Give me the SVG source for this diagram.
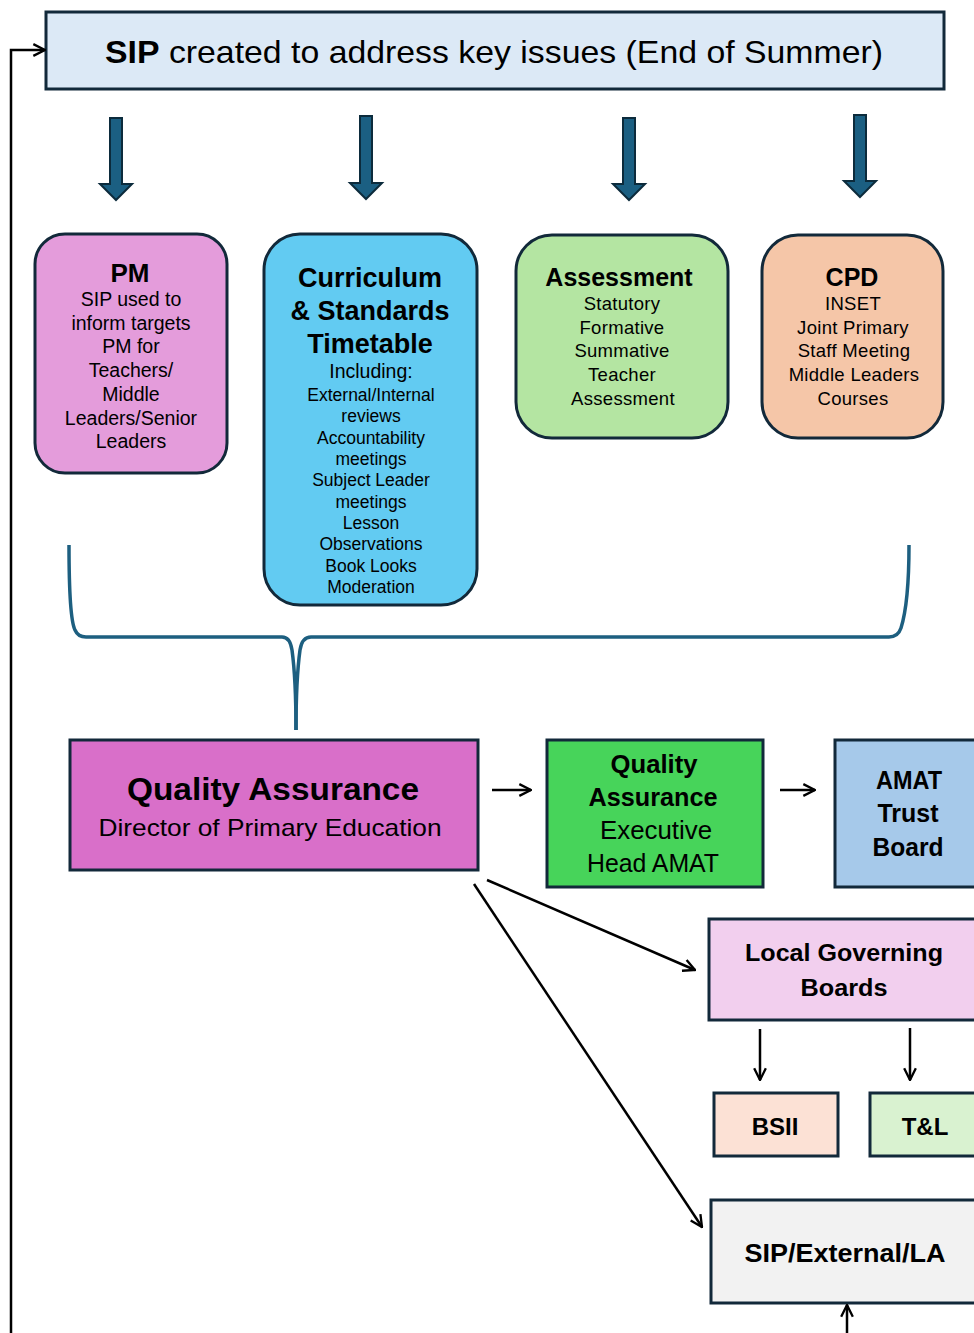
<svg xmlns="http://www.w3.org/2000/svg" width="974" height="1333" viewBox="0 0 974 1333">
  <defs>
    <style>
      .box { stroke: #12293a; stroke-width: 3; }
      .t { font-family: "Liberation Sans", Arial, sans-serif; fill: #000; text-anchor: middle; }
      .b { font-weight: bold; }
      .pm { font-size: 19.5px; }
      .cur { font-size: 17.5px; }
      .lst { font-size: 18.5px; letter-spacing: 0.3px; }
      .blk { fill: #1b5f82; stroke: #0c2b3c; stroke-width: 2; }
      .con { fill: none; stroke: #000; stroke-width: 2.5; }
      .brace { fill: none; stroke: #1d5f80; stroke-width: 3.5; }
    </style>
    <marker id="head" viewBox="0 0 12 12" refX="11" refY="6" markerWidth="14" markerHeight="14" markerUnits="userSpaceOnUse" orient="auto">
      <path d="M1,1 L11,6 L1,11" fill="none" stroke="#000" stroke-width="2"/>
    </marker>
  </defs>

  <!-- SIP header -->
  <g id="sip-header">
    <rect class="box" x="46" y="12" width="898" height="77" fill="#dce9f6"/>
    <text class="t" x="494" y="63" font-size="32" textLength="778" lengthAdjust="spacingAndGlyphs"><tspan class="b">SIP</tspan> created to address key issues (End of Summer)</text>
  </g>

  <!-- block arrows from header -->
  <g id="block-arrows">
    <polygon class="blk" points="110,118 122,118 122,184 132,184 116,200 100,184 110,184"/>
    <polygon class="blk" points="360,116 372,116 372,183 382,183 366,199 350,183 360,183"/>
    <polygon class="blk" points="623,118 635,118 635,184 645,184 629,200 613,184 623,184"/>
    <polygon class="blk" points="854,115 866,115 866,181 876,181 860,197 844,181 854,181"/>
  </g>

  <!-- PM -->
  <g id="pm">
    <rect class="box" x="35" y="234" width="192" height="239" rx="30" fill="#e49cdb"/>
    <text class="t b" x="130" y="282" font-size="26">PM</text>
    <text class="t pm" x="131" y="306">SIP used to</text>
    <text class="t pm" x="131" y="330">inform targets</text>
    <text class="t pm" x="131" y="353">PM for</text>
    <text class="t pm" x="131" y="377">Teachers/</text>
    <text class="t pm" x="131" y="401">Middle</text>
    <text class="t pm" x="131" y="425">Leaders/Senior</text>
    <text class="t pm" x="131" y="448">Leaders</text>
  </g>

  <!-- Curriculum & Standards -->
  <g id="curriculum">
    <rect class="box" x="264" y="234" width="213" height="371" rx="36" fill="#62cbf2"/>
    <text class="t b" x="370" y="287" font-size="27">Curriculum</text>
    <text class="t b" x="370" y="320" font-size="27">&amp; Standards</text>
    <text class="t b" x="370" y="353" font-size="27">Timetable</text>
    <text class="t" x="371" y="378" font-size="19.5">Including:</text>
    <text class="t cur" x="371" y="401">External/Internal</text>
    <text class="t cur" x="371" y="422">reviews</text>
    <text class="t cur" x="371" y="444">Accountability</text>
    <text class="t cur" x="371" y="465">meetings</text>
    <text class="t cur" x="371" y="486">Subject Leader</text>
    <text class="t cur" x="371" y="508">meetings</text>
    <text class="t cur" x="371" y="529">Lesson</text>
    <text class="t cur" x="371" y="550">Observations</text>
    <text class="t cur" x="371" y="572">Book Looks</text>
    <text class="t cur" x="371" y="593">Moderation</text>
  </g>

  <!-- Assessment -->
  <g id="assessment">
    <rect class="box" x="516" y="235" width="212" height="203" rx="36" fill="#b4e5a2"/>
    <text class="t b" x="619" y="286" font-size="25">Assessment</text>
    <text class="t lst" x="622" y="310">Statutory</text>
    <text class="t lst" x="622" y="334">Formative</text>
    <text class="t lst" x="622" y="357">Summative</text>
    <text class="t lst" x="622" y="381">Teacher</text>
    <text class="t lst" x="623" y="405">Assessment</text>
  </g>

  <!-- CPD -->
  <g id="cpd">
    <rect class="box" x="762" y="235" width="181" height="203" rx="36" fill="#f5c6a8"/>
    <text class="t b" x="852" y="286" font-size="25">CPD</text>
    <text class="t lst" x="853" y="310">INSET</text>
    <text class="t lst" x="853" y="334">Joint Primary</text>
    <text class="t lst" x="854" y="357">Staff Meeting</text>
    <text class="t lst" x="854" y="381">Middle Leaders</text>
    <text class="t lst" x="853" y="405">Courses</text>
  </g>

  <!-- Quality Assurance -->
  <g id="qa">
    <rect class="box" x="70" y="740" width="408" height="130" fill="#d96fc9"/>
    <text class="t b" x="273" y="800" font-size="31" textLength="292" lengthAdjust="spacingAndGlyphs">Quality Assurance</text>
    <text class="t" x="270" y="836" font-size="24" textLength="343" lengthAdjust="spacingAndGlyphs">Director of Primary Education</text>
  </g>

  <!-- Quality Assurance Executive -->
  <g id="qa-exec">
    <rect class="box" x="547" y="740" width="216" height="147" fill="#47d45a"/>
    <text class="t b" x="654" y="773" font-size="25" textLength="87" lengthAdjust="spacingAndGlyphs">Quality</text>
    <text class="t b" x="653" y="806" font-size="25" textLength="129" lengthAdjust="spacingAndGlyphs">Assurance</text>
    <text class="t" x="656" y="839" font-size="25" textLength="112" lengthAdjust="spacingAndGlyphs">Executive</text>
    <text class="t" x="653" y="872" font-size="25" textLength="132" lengthAdjust="spacingAndGlyphs">Head AMAT</text>
  </g>

  <!-- AMAT Trust Board -->
  <g id="amat">
    <rect class="box" x="835" y="740" width="145" height="147" fill="#a6c9ea"/>
    <text class="t b" x="909" y="789" font-size="25" textLength="66" lengthAdjust="spacingAndGlyphs">AMAT</text>
    <text class="t b" x="908" y="822" font-size="25" textLength="61" lengthAdjust="spacingAndGlyphs">Trust</text>
    <text class="t b" x="908" y="856" font-size="25" textLength="71" lengthAdjust="spacingAndGlyphs">Board</text>
  </g>

  <!-- Local Governing Boards -->
  <g id="lgb">
    <rect class="box" x="709" y="919" width="271" height="101" fill="#f2cfee"/>
    <text class="t b" x="844" y="961" font-size="23" textLength="198" lengthAdjust="spacingAndGlyphs">Local Governing</text>
    <text class="t b" x="844" y="996" font-size="23" textLength="87" lengthAdjust="spacingAndGlyphs">Boards</text>
  </g>

  <!-- BSII -->
  <g id="bsii">
    <rect class="box" x="714" y="1093" width="124" height="63" fill="#fce1d5"/>
    <text class="t b" x="775" y="1135" font-size="24">BSII</text>
  </g>

  <!-- T&L -->
  <g id="tl">
    <rect class="box" x="870" y="1093" width="110" height="63" fill="#d9f2d0"/>
    <text class="t b" x="925" y="1135" font-size="24">T&amp;L</text>
  </g>

  <!-- SIP/External/LA -->
  <g id="sip-external">
    <rect class="box" x="711" y="1200" width="269" height="103" fill="#f2f2f2"/>
    <text class="t b" x="845" y="1262" font-size="26" textLength="201" lengthAdjust="spacingAndGlyphs">SIP/External/LA</text>
  </g>

  <!-- connectors -->
  <g id="connectors">
    <!-- brace gathering the four strands into Quality Assurance -->
    <path class="brace" d="M69,545 C69,600 71,622 75,630 Q78,637 86,637 L282,637 Q290,637 292,650 C295,672 296,695 296,730"/>
    <path class="brace" d="M296,730 C296,695 297,672 300,650 Q302,637 311,637 L889,637 Q898,637 901,628 C906,612 909,590 909,545"/>

    <path class="con" d="M492,790 L531,790" marker-end="url(#head)"/>
    <path class="con" d="M780,790 L815,790" marker-end="url(#head)"/>
    <path class="con" d="M487,880 L695,970" marker-end="url(#head)"/>
    <path class="con" d="M474,884 L702,1227" marker-end="url(#head)"/>
    <path class="con" d="M760,1029 L760,1080" marker-end="url(#head)"/>
    <path class="con" d="M910,1028 L910,1080" marker-end="url(#head)"/>
    <path class="con" d="M847,1333 L847,1305" marker-end="url(#head)"/>
    <!-- feedback loop back to the SIP header -->
    <path class="con" d="M11,1333 L11,50 L45,50" marker-end="url(#head)"/>
  </g>
</svg>
